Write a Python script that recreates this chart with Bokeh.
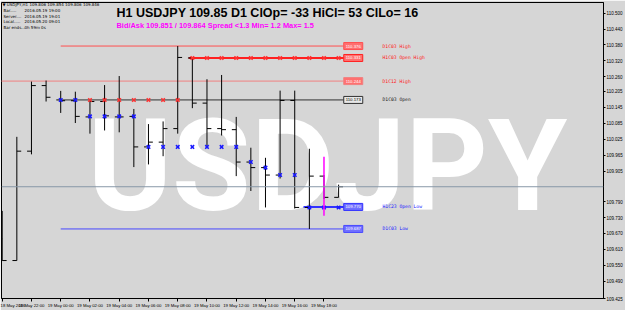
from bokeh.plotting import figure
from bokeh.models import (ColumnDataSource, Range1d, FixedTicker, Label, Span,
                          PrintfTickFormatter)
from bokeh.core.properties import value
from bokeh.embed import file_html
from bokeh.resources import INLINE

# ---------------- data ----------------
bar_times = ["18 May 20:00", "18 May 21:00", "18 May 22:00", "18 May 23:00",
             "19 May 00:00", "19 May 01:00", "19 May 02:00", "19 May 03:00",
             "19 May 04:00", "19 May 05:00", "19 May 06:00", "19 May 07:00",
             "19 May 08:00", "19 May 09:00", "19 May 10:00", "19 May 11:00",
             "19 May 12:00", "19 May 13:00", "19 May 14:00", "19 May 15:00",
             "19 May 16:00", "19 May 17:00", "19 May 18:00", "19 May 19:00"]
opens = [109.650, 109.568, 109.980, 110.227, 110.173, 110.170, 110.109, 110.167,
         110.109, 110.111, 109.996, 110.014, 110.065, 110.331, 110.161, 110.065,
         110.061, 109.939, 109.918, 109.890, 110.171, 109.768, 109.886, 109.806]
highs = [109.755, 110.034, 110.242, 110.246, 110.207, 110.204, 110.173, 110.229,
         110.263, 110.139, 110.082, 110.092, 110.376, 110.331, 110.251, 110.267,
         110.109, 109.993, 109.955, 110.208, 110.208, 109.989, 109.890, 109.854]
lows = [109.568, 109.568, 109.968, 110.167, 110.124, 110.086, 110.046, 110.058,
        110.051, 109.920, 109.930, 109.961, 110.046, 110.142, 109.993, 110.039,
        109.886, 109.830, 109.768, 109.877, 109.764, 109.687, 109.800, 109.806]
closes = [109.568, 109.980, 110.227, 110.183, 110.170, 110.111, 110.167, 110.113,
          110.109, 109.996, 110.014, 110.065, 110.333, 110.161, 110.065, 110.061,
          109.939, 109.918, 109.890, 110.171, 109.768, 109.886, 109.806, 109.846]

time_tick_bars = [0, 2, 4, 6, 8, 10, 12, 14, 16, 18, 20, 22]
time_tick_labels = ["18 May 2016", "18 May 22:00", "19 May 00:00", "19 May 02:00",
                    "19 May 04:00", "19 May 06:00", "19 May 08:00", "19 May 10:00",
                    "19 May 12:00", "19 May 14:00", "19 May 16:00", "19 May 18:00"]
price_ticks = [110.500, 110.440, 110.380, 110.320, 110.260, 110.205, 110.145,
               110.085, 110.025, 109.965, 109.905, 109.790, 109.730, 109.670,
               109.610, 109.550, 109.490, 109.425]

level_names = ["D1C03 High", "H1C03 Open High", "D1C12 High", "D1C03 Open",
               "H1C23 Open Low", "D1C03 Low"]
level_prices = [110.376, 110.331, 110.244, 110.173, 109.770, 109.687]
level_start_bar = [4, 12.75, -3, 4, 20.6, 4]

red_marker_bars = [6, 7, 8, 9, 10, 11, 12, 13, 14, 15, 16, 17, 18, 19, 20, 21, 22, 23]
red_marker_prices = [110.173, 110.173, 110.173, 110.173, 110.173, 110.173, 110.173,
                     110.331, 110.331, 110.331, 110.331, 110.331, 110.331, 110.331,
                     110.331, 110.331, 110.331, 110.331]
blue_marker_bars = [4, 5, 6, 7, 8, 9, 10, 11, 12, 13, 14, 15, 16, 17, 18, 19, 20, 21, 22, 23]
blue_marker_prices = [110.173, 110.173, 110.111, 110.111, 110.111, 110.111,
                      109.996, 109.996, 109.996, 109.996, 109.996, 109.996, 109.996,
                      109.939, 109.918, 109.890, 109.890, 109.768, 109.768, 109.768]

bid_price = 109.846
spread_bar = 22
spread_low, spread_high = 109.737, 109.959

title_text = "H1 USDJPY 109.85 D1 ClOp= -33 HiCl= 53 ClLo= 16"
subtitle_text = "Bid/Ask 109.851 / 109.864  Spread  <1.3  Min= 1.2  Max= 1.5"
info_head = "\u25bc USDJPY,H1  109.806 109.854 109.806 109.846"
info_keys = ["Bar.....", "Server....", "Local.....", "Bar ends..."]
info_vals = ["2016.05.19 19:00", "2016.05.19 19:01", "2016.05.20 09:01", "0h 59m 0s"]
watermark = "USDJPY"

# ---------------- styles ----------------
BG = "#d6d6d6"
RED = "#ff3030"
LEVEL_COLORS = ["#ff5050", "#ff2020", "#f08080", "#303030", "#3030ff", "#4848ff"]
LEVEL_WIDTHS = [1, 2, 1, 1, 2, 1]
TEXT_COLORS = ["#ff2020", "#ff2020", "#ff2020", "#202020", "#2020ff", "#2020ff"]
BOX_FILL = ["#ff7070", "#ff7070", "#ff7070", "#e8e8e8", "#7070ff", "#7070ff"]
BOX_TEXT = ["#ffffff", "#ffffff", "#ffffff", "#000000", "#ffffff", "#ffffff"]
TICK = 0.3
BOX_X = 24.0
NAME_X = 26.0
FRAME_BOTTOM = 300

p = figure(width=625, height=310, output_backend="svg", toolbar_location=None,
           x_range=Range1d(-0.048, 41.11), y_range=Range1d(109.425, 110.540),
           y_axis_location="right", background_fill_color=BG, border_fill_color=BG,
           min_border_left=1, min_border_top=2, min_border_right=20,
           min_border_bottom=10)
p.outline_line_color = "#000000"
p.grid.visible = False

# axes
xa = p.xaxis[0]
xa.ticker = FixedTicker(ticks=time_tick_bars)
xa.major_label_overrides = {b: l for b, l in zip(time_tick_bars, time_tick_labels)}
xa.major_label_text_align = "left"
xa.major_label_text_font_size = "4.3px"
xa.major_label_text_font = "Liberation Sans"
xa.major_label_text_color = "#000000"
xa.major_label_standoff = 1
xa.major_tick_out = 3
xa.major_tick_in = 0
xa.minor_tick_line_color = None
xa.axis_line_color = "#000000"

ya = p.yaxis[0]
ya.ticker = FixedTicker(ticks=price_ticks)
ya.formatter = PrintfTickFormatter(format="%.3f")
ya.major_label_text_font_size = "4.5px"
ya.major_label_text_font = "Liberation Sans"
ya.major_label_text_color = "#000000"
ya.major_label_standoff = 1
ya.major_tick_out = 2
ya.major_tick_in = 0
ya.minor_tick_line_color = None
ya.axis_line_color = "#000000"

# watermark
p.add_layout(Label(x=327 - 1, y=FRAME_BOTTOM - 167, x_units="screen", y_units="screen",
                   text=watermark, text_align="center", text_baseline="middle",
                   text_font="Roboto",
                   text_font_style="bold", text_font_size="128px", text_color="#ffffff",
                   level="underlay"))

# level lines
lv = ColumnDataSource(dict(x0=level_start_bar, x1=[BOX_X - 0.65] * len(level_prices),
                           y=level_prices, color=LEVEL_COLORS, w=LEVEL_WIDTHS,
                           names=level_names, tcol=TEXT_COLORS, fill=BOX_FILL,
                           btxt=BOX_TEXT, bx=[BOX_X] * len(level_prices),
                           nx=[NAME_X] * len(level_prices),
                           ptxt=["%.3f" % v for v in level_prices]))
p.segment(x0="x0", y0="y", x1="x1", y1="y", line_color="color", line_width="w", source=lv)

# bid line
p.add_layout(Span(location=bid_price, dimension="width", line_color="#8898a8", line_width=1))

# OHLC bars
idx = list(range(len(bar_times)))
bars = ColumnDataSource(dict(x=idx, xl=[i - TICK for i in idx], xr=[i + TICK for i in idx],
                             o=opens, h=highs, l=lows, c=closes))
p.segment(x0="x", y0="l", x1="x", y1="h", source=bars, line_color="#000000", line_width=1)
p.segment(x0="xl", y0="o", x1="x", y1="o", source=bars, line_color="#000000", line_width=1)
p.segment(x0="x", y0="c", x1="xr", y1="c", source=bars, line_color="#000000", line_width=1)

# markers
p.scatter(red_marker_bars, red_marker_prices, marker="x", size=5, line_width=1.5,
          line_color=RED)
p.scatter(blue_marker_bars, blue_marker_prices, marker="x", size=5, line_width=1.5,
          line_color="#1818ff")

# spread line
p.segment(x0=[spread_bar], y0=[spread_low], x1=[spread_bar], y1=[spread_high],
          line_color="#ff00ff", line_width=1.5)

# price boxes and names
p.rect(x="bx", y="y", width=19, height=7, width_units="screen", height_units="screen",
       fill_color="fill", line_color="color", source=lv)
p.text(x="bx", y="y", text="ptxt", text_color="btxt", text_align="center",
       text_baseline="middle", text_font_size="4.3px", text_font=value("Liberation Sans"),
       source=lv)
p.text(x="nx", y="y", text="names", text_color="tcol", text_align="left",
       text_baseline="middle", text_font_size="4.7px", text_font=value("DejaVu Sans Mono"),
       source=lv)

# bid label on price axis
p.add_layout(Label(x=41.11, y=bid_price, x_units="data", y_units="data", x_offset=1,
                   text="%.3f" % bid_price, text_align="left", text_baseline="middle",
                   text_font="Liberation Sans", text_font_size="4.5px",
                   text_color="#ffffff", background_fill_color="#000000", padding=1))

# titles
p.add_layout(Label(x=116 - 1, y=FRAME_BOTTOM - 14, x_units="screen", y_units="screen",
                   text=title_text, text_font="Liberation Sans", text_font_style="bold",
                   text_font_size="12.5px", text_color="#000000", text_baseline="alphabetic"))
p.add_layout(Label(x=116 - 1, y=FRAME_BOTTOM - 26.5, x_units="screen", y_units="screen",
                   text=subtitle_text, text_font="Liberation Sans", text_font_style="bold",
                   text_font_size="7.4px", text_color="#ff00ff", text_baseline="alphabetic"))

# info block
p.add_layout(Label(x=1, y=FRAME_BOTTOM - 6, x_units="screen", y_units="screen",
                   text=info_head, text_font="DejaVu Sans", text_font_size="4px",
                   text_color="#000000", text_baseline="alphabetic"))
for k, (key, val) in enumerate(zip(info_keys, info_vals)):
    yy = FRAME_BOTTOM - 12 - 5.6 * k
    p.add_layout(Label(x=2, y=yy, x_units="screen", y_units="screen", text=key,
                       text_font="DejaVu Sans", text_font_size="4px",
                       text_color="#000000", text_baseline="alphabetic"))
    p.add_layout(Label(x=23, y=yy, x_units="screen", y_units="screen", text=val,
                       text_font="DejaVu Sans", text_font_size="4px",
                       text_color="#000000", text_baseline="alphabetic"))

open("out.html", "w").write(file_html(p, INLINE))
